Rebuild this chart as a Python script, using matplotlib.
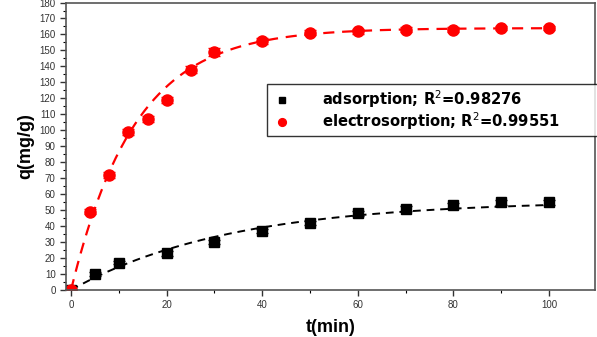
import numpy as np
import matplotlib
matplotlib.use("Agg")
import matplotlib.pyplot as plt
from matplotlib.ticker import MultipleLocator

t_ads = [0, 5, 10, 20, 30, 40, 50, 60, 70, 80, 90, 100]
q_ads = [0, 10, 17, 23, 30, 37, 42, 48, 51, 53, 55, 55]
t_ele = [0, 4, 8, 12, 16, 20, 25, 30, 40, 50, 60, 70, 80, 90, 100]
q_ele = [0, 49, 72, 99, 107, 119, 138, 149, 156, 161, 162, 163, 163, 164, 164]
err_ads = [0.5, 1, 1, 1.5, 1.5, 1.5, 1.5, 1.5, 1.5, 1.5, 1.5, 1.5]
err_ele = [0.5, 1.5, 2, 2, 2, 2, 2, 2.5, 2, 1.5, 1.5, 1.5, 1.5, 1.5, 1.5]
# pseudo-first-order fit parameters (qe, k)
fit_ads = (56.0, 0.030)
fit_ele = (164.0, 0.075)
labels = ["adsorption; R$^2$=0.98276", "electrosorption; R$^2$=0.99551"]

plt.rcParams['font.family'] = ['Liberation Sans', 'DejaVu Sans']
fig = plt.figure(figsize=(5.97, 3.37), dpi=100)
ax = fig.add_axes([0.1106, 0.1395, 0.886, 0.853])

tt = np.linspace(0, 100, 300)
ax.plot(tt, fit_ads[0] * (1 - np.exp(-fit_ads[1] * tt)), ls=(0, (4, 3)), color='black', lw=1.4)
ax.plot(tt, fit_ele[0] * (1 - np.exp(-fit_ele[1] * tt)), ls=(0, (5, 3.5)), color='red', lw=1.6)

ax.errorbar(t_ads, q_ads, yerr=err_ads, fmt='s', color='black', ms=7, capsize=4, elinewidth=1, label=labels[0])
ax.errorbar(t_ele, q_ele, yerr=err_ele, fmt='o', color='red', ms=8, capsize=4, elinewidth=1, label=labels[1])

ax.set_xlim(-1.05, 109.6)
ax.set_ylim(0, 180)
ax.xaxis.set_major_locator(MultipleLocator(20))
ax.xaxis.set_minor_locator(MultipleLocator(10))
ax.yaxis.set_major_locator(MultipleLocator(10))
ax.yaxis.set_minor_locator(MultipleLocator(5))
ax.set_xticks([0, 20, 40, 60, 80, 100])
ax.tick_params(which='major', direction='out', length=4, width=1, labelsize=7, colors='#333333')
ax.tick_params(which='minor', direction='out', length=2, width=0.8)
for s in ax.spines.values():
    s.set_color('#555555')
    s.set_linewidth(1.2)

ax.set_xlabel('t(min)', fontsize=13, fontweight='bold', labelpad=6)
ax.set_ylabel('q(mg/g)', fontsize=13, fontweight='bold', labelpad=4)

handles, labs = ax.get_legend_handles_labels()
handles = [h[0] for h in handles]
leg = ax.legend(handles, labs, loc='upper left', bbox_to_anchor=(0.38, 0.715, 0.65, 0.0),
                mode='expand', borderaxespad=0,
                prop={'family': 'DejaVu Sans', 'weight': 'bold', 'size': 10.6}, frameon=True,
                fancybox=False, edgecolor='black', handlelength=1.6, handletextpad=1.9,
                markerscale=0.7, borderpad=0.25, labelspacing=0.05)
leg.get_frame().set_linewidth(1.0)

fig.savefig('out.png', dpi=100)
